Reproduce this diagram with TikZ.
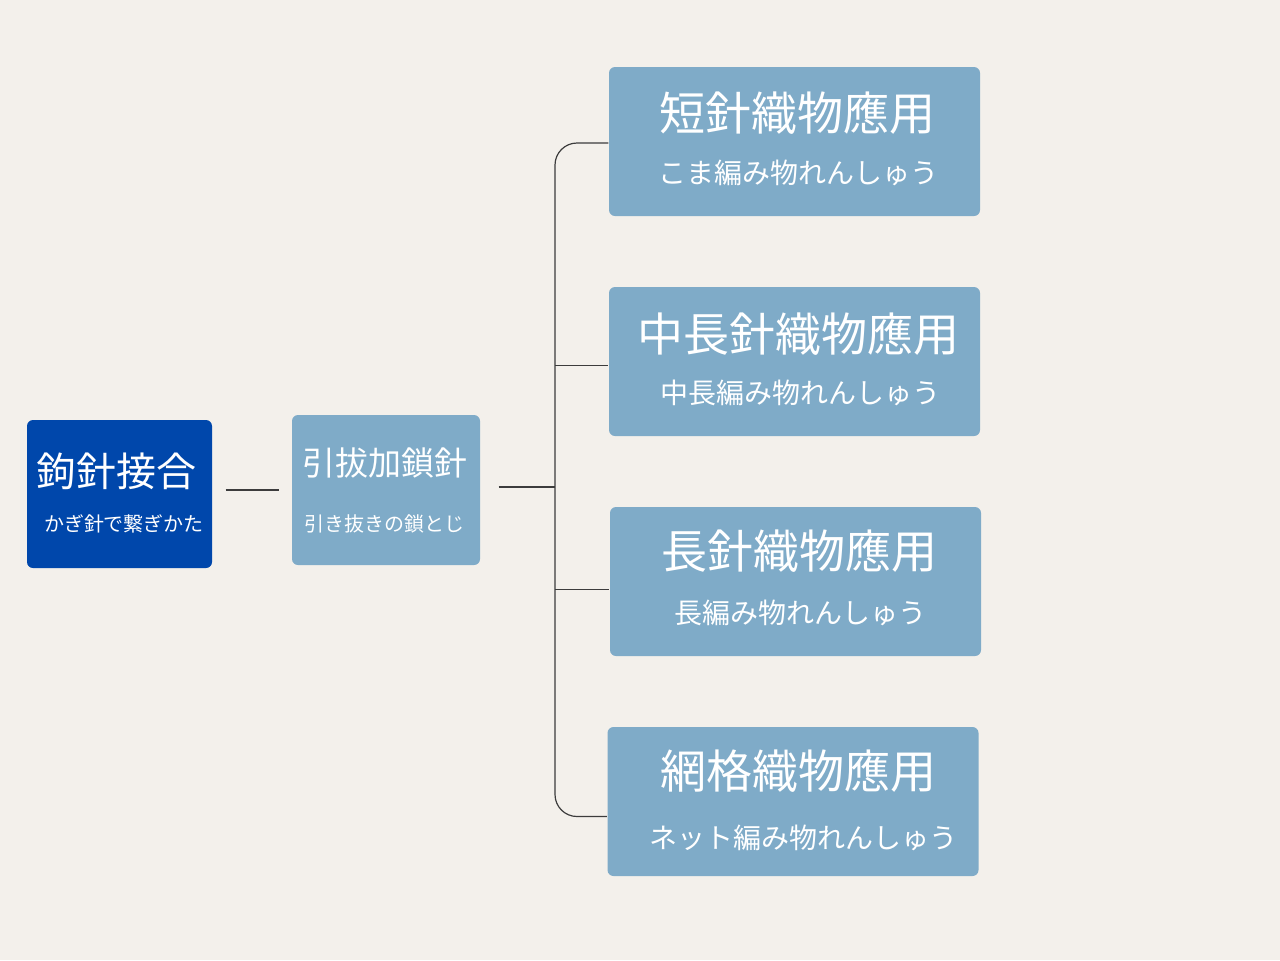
\documentclass[tikz,border=0pt]{standalone}
\usepackage{fontspec}
\newfontfamily\jp{Noto Sans CJK JP}
\usetikzlibrary{positioning,calc}
\definecolor{bgcol}{RGB}{243,240,235}
\definecolor{rootblue}{RGB}{0,71,171}
\definecolor{boxblue}{RGB}{127,171,200}
\definecolor{linecol}{RGB}{60,60,60}
\tikzset{
    every picture/.style={line width=0.6pt},
    box/.style={rectangle,rounded corners=3pt,inner sep=0pt},
    rootbox/.style={box,fill=rootblue,minimum width=92.5pt,minimum height=74pt},
    midbox/.style={box,fill=boxblue,minimum width=94pt,minimum height=75pt},
    leafbox/.style={box,fill=boxblue,minimum width=185.5pt,minimum height=74.5pt},
    title/.style={text=white,font=\jp\fontsize{23pt}{26pt}\selectfont,inner sep=0pt},
    subtitle/.style={text=white,font=\jp\fontsize{14pt}{16pt}\selectfont,inner sep=0pt},
    link/.style={draw=linecol}
}
\begin{document}
\begin{tikzpicture}[x=0.5pt,y=-0.5pt]
    \useasboundingbox[fill=bgcol] (0,0) rectangle (1280,960);

    % boxes
    \node[rootbox] (root) at (119.5,494) {};
    \node[midbox] (mid) at (386,490) {};
    \node[leafbox] (b1) at (794.5,141.5) {};
    \node[leafbox] (b2) at (794.5,361.5) {};
    \node[leafbox] (b3) at (795.5,581.5) {};
    \node[leafbox] (b4) at (793,801.5) {};

    % texts
    \node[title,font=\jp\fontsize{20pt}{24pt}\selectfont] (roott) at (116,471) {鉤針接合};
    \node[subtitle,font=\jp\fontsize{10pt}{12pt}\selectfont] (roots) at (124,524) {かぎ針で繋ぎかた};
    \node[title,font=\jp\fontsize{16.5pt}{20pt}\selectfont] (midt) at (385,463) {引拔加鎖針};
    \node[subtitle,font=\jp\fontsize{10pt}{12pt}\selectfont] (mids) at (384,524) {引き抜きの鎖とじ};
    \node[title] (b1t) at (797,113) {短針織物應用};
    \node[subtitle] (b1s) at (798,173) {こま編み物れんしゅう};
    \node[title] (b2t) at (798,334) {中長針織物應用};
    \node[subtitle] (b2s) at (800,393) {中長編み物れんしゅう};
    \node[title] (b3t) at (799,551) {長針織物應用};
    \node[subtitle] (b3s) at (800,613) {長編み物れんしゅう};
    \node[title] (b4t) at (798,771) {網格織物應用};
    \node[subtitle] (b4s) at (803,838) {ネット編み物れんしゅう};

    % connectors
    \coordinate (j) at (555,487);
    \coordinate (r) at ([yshift=2pt]root.east);
    \coordinate (p1) at ([yshift=-0.75pt]b1.west);
    \coordinate (p2) at ([yshift=-2pt]b2.west);
    \coordinate (p3) at ([yshift=-4pt]b3.west);
    \coordinate (p4) at ([yshift=-7.5pt]b4.west);
    \draw[link,shorten <=6.5pt,shorten >=6pt] (r) -- (r -| mid.west);
    \draw[link,shorten <=9pt] (mid.east |- j) -- (j);
    \draw[link,rounded corners=11pt] (p1) -- (j |- p1) -- (j |- p4) -- (p4);
    \draw[link] (j |- p2) -- (p2);
    \draw[link] (j |- p3) -- (p3);
\end{tikzpicture}
\end{document}
